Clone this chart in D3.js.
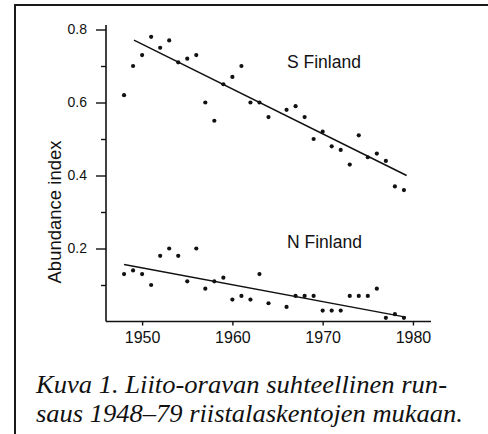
<!DOCTYPE html>
<html>
<head>
<meta charset="utf-8">
<script src="https://cdn.jsdelivr.net/npm/d3@7"></script>
<style>
  html, body { margin: 0; padding: 0; background: #fff; }
  svg { display: block; }
  .tick-label { font-family: "Liberation Sans", Arial, sans-serif; fill: #111; }
  .caption { font-family: "Liberation Serif", "Times New Roman", serif; font-style: italic; fill: #111; }
</style>
</head>
<body>
<div id="chart"></div>
<script>
// data
const years = [1948, 1949, 1950, 1951, 1952, 1953, 1954, 1955, 1956, 1957, 1958, 1959, 1960, 1961, 1962, 1963, 1964,
    1966, 1967, 1968, 1969, 1970, 1971, 1972, 1973, 1974, 1975, 1976, 1977, 1978, 1979];
const sFinland = [0.62, 0.70, 0.73, 0.78, 0.75, 0.77, 0.71, 0.72, 0.73, 0.60, 0.55, 0.65, 0.67, 0.70, 0.60, 0.60, 0.56,
    0.58, 0.59, 0.56, 0.50, 0.52, 0.48, 0.47, 0.43, 0.51, 0.45, 0.46, 0.44, 0.37, 0.36];
const nFinland = [0.13, 0.14, 0.13, 0.10, 0.18, 0.20, 0.18, 0.11, 0.20, 0.09, 0.11, 0.12, 0.06, 0.07, 0.06, 0.13, 0.05,
    0.04, 0.07, 0.07, 0.07, 0.03, 0.03, 0.03, 0.07, 0.07, 0.07, 0.09, 0.01, 0.02, 0.01];
// fitted lines, [year, value] at both ends
const sTrend = [[1949.1, 0.771], [1979.3, 0.400]];
const nTrend = [[1948.0, 0.156], [1979.2, 0.012]];

const xTicks = [1950, 1960, 1970, 1980];
const yMajorTicks = [0.2, 0.4, 0.6, 0.8];
const yMinorTicks = [0.1, 0.3, 0.5, 0.7];
const seriesLabels = ['S Finland', 'N Finland'];
const yTitle = 'Abundance index';
const captionLines = ['Kuva 1. Liito-oravan suhteellinen run-', 'saus 1948–79 riistalaskentojen mukaan.'];

const width = 488;
const height = 434;

const svg = d3.select('#chart').append('svg')
    .attr('width', width)
    .attr('height', height);

// frame: top and left rule of the scanned page
svg.append('path')
    .attr('d', 'M15,434V5H488')
    .attr('fill', 'none')
    .attr('stroke', '#1a1a1a')
    .attr('stroke-width', 2);

const x = d3.scaleLinear().domain([1946, 1982]).range([106, 431]);
const y = d3.scaleLinear().domain([0, 0.8]).range([321.5, 29.5]);

const axisColor = '#111';

// y axis line
svg.append('line')
    .attr('x1', x(1946)).attr('x2', x(1946))
    .attr('y1', y(0)).attr('y2', y(0.812))
    .attr('stroke', axisColor)
    .attr('stroke-width', 1.6);

// x axis line
svg.append('line')
    .attr('x1', x(1946)).attr('x2', x(1982))
    .attr('y1', y(0)).attr('y2', y(0))
    .attr('stroke', axisColor)
    .attr('stroke-width', 1.6);

const yAxisMajor = d3.axisLeft(y).tickValues(yMajorTicks).tickSize(10).tickPadding(9)
    .tickFormat(d => String(d.toFixed(1)));
const yAxisMinor = d3.axisLeft(y).tickValues(yMinorTicks).tickSize(5).tickFormat('');
const xAxis = d3.axisBottom(x).tickValues(xTicks).tickSize(4).tickPadding(6).tickFormat(d3.format('d'));

function styleAxis(g, fontSize) {
    g.select('.domain').remove();
    g.selectAll('.tick line').attr('stroke', axisColor).attr('stroke-width', 1.4);
    g.selectAll('.tick text')
        .attr('class', 'tick-label')
        .attr('font-size', fontSize)
        .attr('font-family', null);
}

svg.append('g').attr('transform', `translate(${x(1946)},0)`).call(yAxisMajor).call(g => styleAxis(g, 14));
svg.append('g').attr('transform', `translate(${x(1946)},0)`).call(yAxisMinor).call(g => styleAxis(g, 14));
svg.append('g').attr('transform', `translate(0,${y(0)})`).call(xAxis).call(g => styleAxis(g, 16));

// y title
svg.append('text')
    .attr('class', 'tick-label')
    .attr('transform', `translate(61,${y(0.3)}) rotate(-90)`)
    .attr('text-anchor', 'middle')
    .attr('font-size', 18.5)
    .text(yTitle);

// trend lines
const line = d3.line().x(d => x(d[0])).y(d => y(d[1]));
[sTrend, nTrend].forEach(t => {
    svg.append('path')
        .attr('d', line(t))
        .attr('fill', 'none')
        .attr('stroke', '#111')
        .attr('stroke-width', 1.5);
});

// points
[sFinland, nFinland].forEach(series => {
    svg.append('g').selectAll('circle')
        .data(series)
        .join('circle')
        .attr('cx', (d, i) => x(years[i]))
        .attr('cy', d => y(d))
        .attr('r', 2.1)
        .attr('fill', '#111');
});

// series labels
svg.append('text').attr('class', 'tick-label')
    .attr('x', 287).attr('y', 67.5)
    .attr('font-size', 17.5)
    .text(seriesLabels[0]);
svg.append('text').attr('class', 'tick-label')
    .attr('x', 287).attr('y', 248)
    .attr('font-size', 17.5)
    .text(seriesLabels[1]);

// caption, stretched to the width of the printed lines
const captionWidths = [411, 427];
svg.selectAll('text.caption')
    .data(captionLines)
    .join('text')
    .attr('class', 'caption')
    .attr('x', 36)
    .attr('y', (d, i) => 393 + i * 29)
    .attr('font-size', 25)
    .attr('textLength', (d, i) => captionWidths[i])
    .attr('lengthAdjust', 'spacingAndGlyphs')
    .text(d => d);
</script>
</body>
</html>
